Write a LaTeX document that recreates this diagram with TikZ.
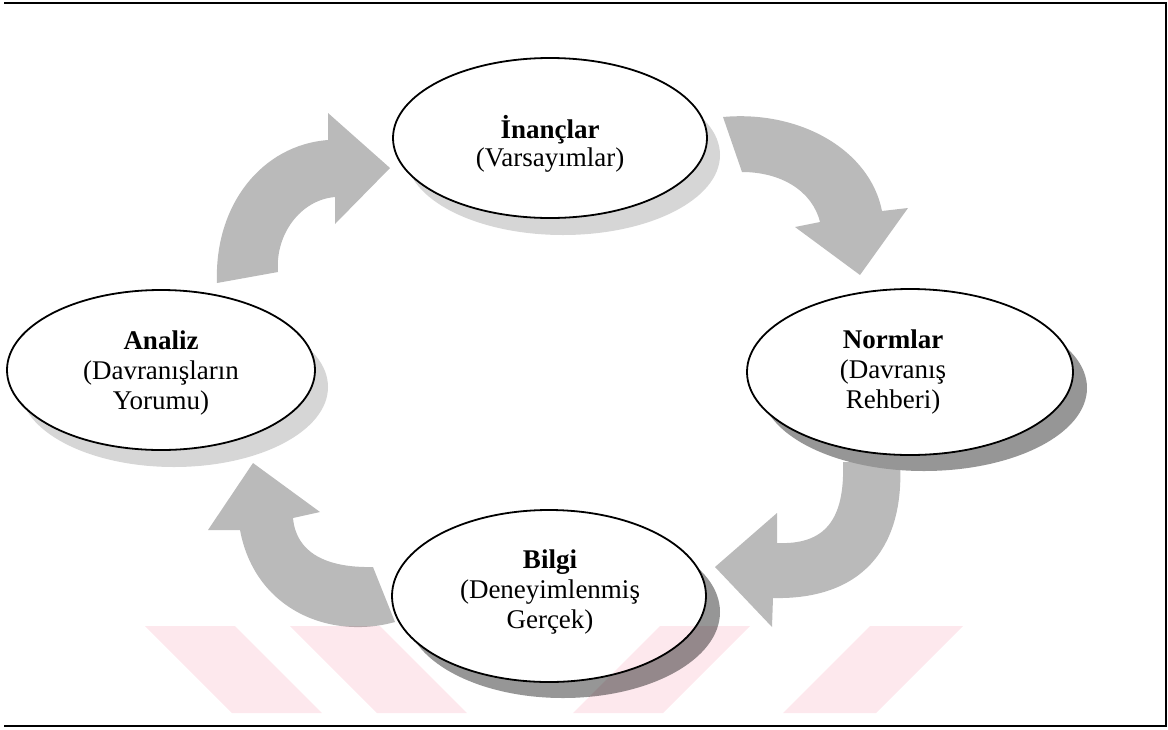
\documentclass[tikz,border=0pt]{standalone}
\usepackage{fontspec}
\setmainfont{Liberation Serif}
\usetikzlibrary{shapes.geometric,shadows}
\definecolor{arrowgray}{RGB}{186,186,186}
\definecolor{shadelight}{RGB}{214,214,214}
\definecolor{shadedark}{RGB}{150,150,150}
\definecolor{markpink}{RGB}{253,232,237}

\begin{document}
\begin{tikzpicture}[x=1pt,y=-1pt,
  bubble/.style={ellipse, draw=black, line width=1.8pt, fill=white, inner sep=0pt},
  lightshadow/.style={drop shadow={shadow xshift=13pt, shadow yshift=-17pt, fill=shadelight, opacity=1}},
  darkshadow/.style={drop shadow={shadow xshift=14pt, shadow yshift=-16pt, fill=shadedark, opacity=1}},
  caption/.style={align=center, font=\fontsize{27}{30}\selectfont},
  bendarrow/.style={fill=arrowgray, draw=none},
  wmark/.style={fill=markpink, draw=none},
  frameline/.style={line width=1.6pt, draw=black}
]
\useasboundingbox (0,0) rectangle (1168,729);

% curved block arrows of the cycle
\path[bendarrow] (217,283) .. controls (214,205) and (262,145) .. (328,140)
  -- (328,113) -- (390,168) -- (335,224) -- (335,197)
  .. controls (300,200) and (275,235) .. (278,272) -- cycle;
\path[bendarrow] (723,117) .. controls (800,110) and (870,150) .. (882,211)
  -- (908,208) -- (860,275) -- (795,227) -- (820,222)
  .. controls (812,190) and (780,172) .. (742,172) -- cycle;
\path[bendarrow] (900,462) .. controls (905,550) and (860,600) .. (773,598)
  -- (772,627) -- (715,567) -- (777,513) -- (777,543)
  .. controls (825,545) and (845,520) .. (843,462) -- cycle;
\path[bendarrow] (395,622) .. controls (330,640) and (255,610) .. (240,530)
  -- (208,530) -- (253,463) -- (320,512) -- (293,518)
  .. controls (296,552) and (325,568) .. (373,567) -- cycle;

% the four stages
\node[bubble, lightshadow, minimum width=314pt, minimum height=160pt] (inanc) at (550,138) {};
\node[bubble, lightshadow, minimum width=308pt, minimum height=160pt] (analiz) at (161,370) {};
\node[bubble, darkshadow, minimum width=326pt, minimum height=166pt] (norm) at (910,372) {};
\node[bubble, darkshadow, minimum width=314pt, minimum height=172pt] (bilgi) at (549,596) {};

\node[caption, font=\fontsize{27}{27.5}\selectfont] (inancT) at (550,144) {\textbf{İnançlar}\\(Varsayımlar)};
\node[caption] (analizT) at (161,373) {\textbf{Analiz}\\(Davranışların\\Yorumu)};
\node[caption] (normT) at (893,372) {\textbf{Normlar}\\(Davranış\\Rehberi)};
\node[caption] (bilgiT) at (550,592) {\textbf{Bilgi}\\(Deneyimlenmiş\\Gerçek)};

% faint stripes along the lower edge, multiplied over what lies beneath
\begin{scope}[blend mode=multiply]
\path[wmark] (145,626) -- (235,626) -- (322,713) -- (232,713) -- cycle;
\path[wmark] (290,626) -- (380,626) -- (467,713) -- (377,713) -- cycle;
\path[wmark] (660,626) -- (750,626) -- (663,713) -- (573,713) -- cycle;
\path[wmark] (870,626) -- (963,626) -- (876,713) -- (783,713) -- cycle;
\end{scope}

% border
\draw[frameline] (4,3) -- (1166,3) -- (1166,726) -- (4,726);
\end{tikzpicture}
\end{document}
